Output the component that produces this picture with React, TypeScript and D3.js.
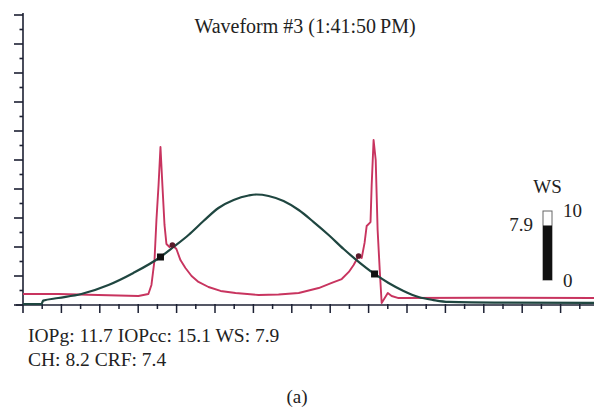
import React from "react";
import * as d3 from "d3";

// Applanation signal (dark teal curve): time units vs. signal units
const GREEN_T = [0, 0.96, 1.05, 1.84, 3.04, 4.45, 5.75, 7.16, 7.84, 8.62, 9.4, 10.18, 10.97, 11.75, 12.16, 12.79, 13.57, 14.36, 15.14, 15.92, 16.7, 17.37, 18.31, 19.04, 19.82, 20.6, 21.38, 22.16, 25.0, 29.8];
const GREEN_V = [0.07, 0.07, 0.3, 0.48, 0.76, 1.38, 2.21, 3.31, 4.0, 4.83, 5.79, 6.69, 7.24, 7.55, 7.62, 7.52, 7.17, 6.55, 5.72, 4.83, 3.86, 3.1, 2.14, 1.52, 0.97, 0.55, 0.34, 0.21, 0.16, 0.14];

// Infrared reflection signal (red curve)
const RED_T = [0, 1.84, 3.93, 6.01, 6.53, 6.69, 6.85, 6.95, 7.06, 7.16, 7.26, 7.37, 7.47, 7.63, 7.78, 7.99, 8.2, 8.46, 8.78, 9.14, 9.66, 10.29, 11.07, 12.27, 13.31, 14.36, 15.4, 16.08, 16.6, 16.97, 17.22, 17.48, 17.64, 17.79, 17.9, 18.1, 18.16, 18.26, 18.37, 18.47, 18.58, 18.68, 18.84, 19.0, 19.2, 19.56, 24.0, 29.8];
const RED_V = [0.76, 0.76, 0.69, 0.62, 0.76, 1.38, 3.1, 5.86, 8.28, 10.9, 8.28, 5.52, 4.21, 4.0, 4.14, 3.86, 3.1, 2.55, 2.0, 1.59, 1.24, 0.97, 0.83, 0.69, 0.72, 0.83, 1.17, 1.52, 1.79, 2.28, 2.76, 3.38, 3.24, 4.28, 5.45, 5.72, 8.28, 11.38, 10.0, 5.17, 2.41, 0.14, 0.48, 0.83, 0.62, 0.48, 0.5, 0.48];

// Markers
const SQUARE_T = [7.16, 18.31];
const SQUARE_V = [3.31, 2.14];
const DOT_T = [7.78, 17.48];
const DOT_V = [4.14, 3.38];

// Axis ticks
const X_TICKS = d3.range(0, 31);
const Y_TICKS = d3.range(0, 21);

// WS gauge
const WS_VALUE = 7.9;
const WS_MAX = 10;
const WS_LABELS = ["0", "10"];

const TITLE = "Waveform #3 (1:41:50\u2009PM)";
const INFO_LINES = ["IOPg: 11.7 IOPcc: 15.1 WS: 7.9", "CH: 8.2 CRF: 7.4"];
const CAPTION = "(a)";

const W = 594;
const H = 408;
const FONT = "'Liberation Serif', 'Times New Roman', serif";
const AXIS = "#1c2033";
const GREEN = "#1f4640";
const RED = "#c8345f";

export default function App() {
  const x = d3.scaleLinear().domain([0, 30]).range([23, 599]);
  const y = d3.scaleLinear().domain([0, 20]).range([305, 15]);

  const green = GREEN_T.map((t, i) => [t, GREEN_V[i]] as [number, number]);
  const red = RED_T.map((t, i) => [t, RED_V[i]] as [number, number]);

  const greenLine = d3
    .line<[number, number]>()
    .x((d) => x(d[0]))
    .y((d) => y(d[1]))
    .curve(d3.curveMonotoneX);
  const redLine = d3
    .line<[number, number]>()
    .x((d) => x(d[0]))
    .y((d) => y(d[1]))
    .curve(d3.curveLinear);

  const ws = d3.scaleLinear().domain([0, WS_MAX]).range([280, 211]);
  const barX = 543;
  const barW = 9;

  return (
    <svg
      width={W}
      height={H}
      style={{ position: "absolute", left: 0, top: 0, background: "#fff" }}
      fontFamily={FONT}
    >
      <rect x={0} y={0} width={W} height={H} fill="#fff" />
      <text x={305} y={33} textAnchor="middle" fontSize={20} fill="#222">
        {TITLE}
      </text>

      {/* axes */}
      <line x1={x(0)} x2={x(0)} y1={y(20) - 2} y2={313} stroke={AXIS} strokeWidth={1.6} />
      <line x1={16} x2={W} y1={y(0)} y2={y(0)} stroke={AXIS} strokeWidth={1.6} />
      {Y_TICKS.map((k) => (
        <line
          key={"y" + k}
          x1={x(0) - (k % 2 === 0 ? 9 : 3.5)}
          x2={x(0)}
          y1={y(k)}
          y2={y(k)}
          stroke={AXIS}
          strokeWidth={1.6}
        />
      ))}
      {X_TICKS.filter((k) => k > 0).map((k) => (
        <line
          key={"x" + k}
          x1={x(k)}
          x2={x(k)}
          y1={y(0) - 1}
          y2={y(0) + (k % 2 === 0 ? 8 : 4)}
          stroke={AXIS}
          strokeWidth={1.5}
        />
      ))}

      {/* curves */}
      <path d={redLine(red) || ""} fill="none" stroke={RED} strokeWidth={1.9} strokeLinejoin="round" />
      <path d={greenLine(green) || ""} fill="none" stroke={GREEN} strokeWidth={2.2} />

      {SQUARE_T.map((t, i) => (
        <rect key={"s" + i} x={x(t) - 3.5} y={y(SQUARE_V[i]) - 3.5} width={7} height={7} fill="#111" />
      ))}
      {DOT_T.map((t, i) => (
        <circle key={"d" + i} cx={x(t)} cy={y(DOT_V[i])} r={2.8} fill="#5a1a2a" />
      ))}

      {/* WS gauge */}
      <text x={barX + barW / 2} y={193} textAnchor="middle" fontSize={19} fill="#222">
        WS
      </text>
      <rect x={barX} y={ws(WS_MAX)} width={barW} height={ws(0) - ws(WS_MAX)} fill="#fff" stroke="#666" strokeWidth={1} />
      <rect x={barX} y={ws(WS_VALUE)} width={barW} height={ws(0) - ws(WS_VALUE)} fill="#111" />
      <text x={barX - 10} y={ws(WS_VALUE) + 6} textAnchor="end" fontSize={19} fill="#222">
        {WS_VALUE.toFixed(1)}
      </text>
      <text x={barX + barW + 11} y={ws(WS_MAX) + 6} fontSize={19} fill="#222">
        {WS_LABELS[1]}
      </text>
      <text x={barX + barW + 11} y={ws(0) + 7} fontSize={19} fill="#222">
        {WS_LABELS[0]}
      </text>

      {/* info */}
      {INFO_LINES.map((s, i) => (
        <text key={"i" + i} x={28} y={342 + i * 24} fontSize={19.5} fill="#222">
          {s}
        </text>
      ))}
      <text x={297} y={403} textAnchor="middle" fontSize={19} fill="#222">
        {CAPTION}
      </text>
    </svg>
  );
}
